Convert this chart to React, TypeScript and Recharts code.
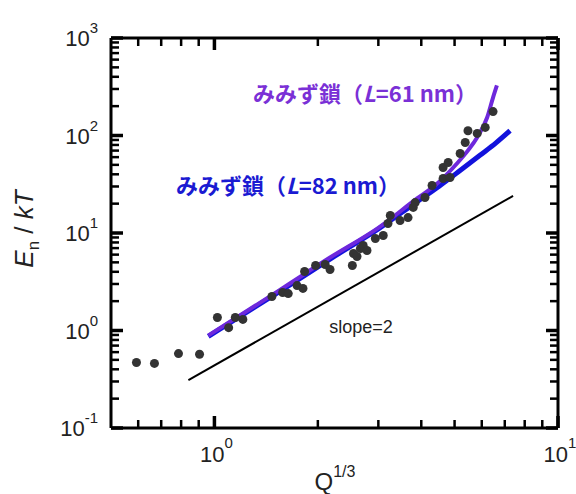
import React from 'react';
import { ComposedChart, Line, Scatter, XAxis, YAxis } from 'recharts';

// measured points (Q^1/3, En/kT)
const qMeasured = [
  0.593, 0.669, 0.786, 0.905, 1.02, 1.1, 1.15, 1.21, 1.47, 1.58, 1.64, 1.74, 1.81,
  1.83, 1.97, 2.1, 2.17, 2.52, 2.54, 2.6, 2.66, 2.71, 2.78, 2.94, 3.1, 3.2, 3.25,
  3.47, 3.66, 3.79, 3.84, 4.1, 4.3, 4.63, 4.85, 4.63, 4.79, 5.19, 5.37, 5.47, 5.82,
  6.14, 6.47,
];
const enMeasured = [
  0.47, 0.46, 0.58, 0.57, 1.36, 1.07, 1.36, 1.3, 2.23, 2.45, 2.39, 2.89, 2.7,
  4.03, 4.64, 4.75, 4.22, 4.64, 6.17, 5.74, 6.93, 7.45, 6.61, 8.79, 9.42, 12.5, 15.1,
  13.4, 14.4, 18.3, 20.5, 23.1, 30.7, 36.2, 37.1, 47, 52.9, 65.4, 84.7, 112, 105,
  121, 176,
];

// worm-like chain, L = 61 nm
const q61 = [0.96, 1.3, 1.6, 2.17, 3.0, 3.89, 4.4, 5.08, 5.5, 5.81, 6.22, 6.47, 6.64];
const en61 = [0.89, 1.75, 2.8, 5.6, 11.3, 22.6, 31, 51.6, 72, 95, 153, 245, 326];

// worm-like chain, L = 82 nm
const q82 = [0.96, 1.6, 2.17, 3.0, 3.89, 4.5, 5.2, 5.94, 6.6, 7.25];
const en82 = [0.87, 2.7, 5.4, 11, 21, 30, 44, 63, 84, 112];

// slope = 2 guide
const qSlope = [0.84, 7.4];
const enSlope = [0.31, 24];

const xMinor = [0.6, 0.7, 0.8, 0.9, 2, 3, 4, 5, 6, 7, 8, 9];
const xMajor = [1, 10];
const yMinor = [
  0.2, 0.3, 0.4, 0.5, 0.6, 0.7, 0.8, 0.9,
  2, 3, 4, 5, 6, 7, 8, 9,
  20, 30, 40, 50, 60, 70, 80, 90,
  200, 300, 400, 500, 600, 700, 800, 900,
];
const yMajor = [0.1, 1, 10, 100, 1000];

const X_MIN = 0.5, X_MAX = 10, Y_MIN = 0.1, Y_MAX = 1000;

// plot box (chart 576x494, left axis 111, right 18, top 38, bottom 66)
const W = 576, H = 494;
const LEFT = 111, RIGHT = W - 18, TOP = 38, BOTTOM = H - 66;

const zip = (xs: number[], ys: number[]) => xs.map((x, i) => ({ x, y: ys[i] }));
const measured = zip(qMeasured, enMeasured);
const fit61 = zip(q61, en61);
const fit82 = zip(q82, en82);
const slope = zip(qSlope, enSlope);

const FONT = '"Liberation Sans", Arial, sans-serif';
const expOf = (v: number) => String(Math.round(Math.log10(v)));

// same log mapping the axes use, for the inward frame ticks
const px = (v: number) =>
  LEFT + ((RIGHT - LEFT) * (Math.log10(v) - Math.log10(X_MIN))) / (Math.log10(X_MAX) - Math.log10(X_MIN));
const py = (v: number) =>
  BOTTOM - ((BOTTOM - TOP) * (Math.log10(v) - Math.log10(Y_MIN))) / (Math.log10(Y_MAX) - Math.log10(Y_MIN));

const bottomLabel = (p: any) => (
  <text key={`b${p.payload.value}`} x={p.x + 2} y={p.y + 34} textAnchor="middle" fontSize={22} fontFamily={FONT} fill="#222">
    10<tspan dy={-14} fontSize={15}>{expOf(p.payload.value)}</tspan>
  </text>
);

const leftLabel = (p: any) => (
  <text key={`l${p.payload.value}`} x={p.x - 13} y={p.y + 8} textAnchor="end" fontSize={22} fontFamily={FONT} fill="#222">
    10<tspan dy={-13} fontSize={15}>{expOf(p.payload.value)}</tspan>
  </text>
);

const Dot = (props: any) => <circle cx={props.cx} cy={props.cy} r={4.5} fill="#333" />;

const axisLine = { stroke: '#000', strokeWidth: 3 };
const xCommon = { type: 'number' as const, scale: 'log' as const, domain: [X_MIN, X_MAX], allowDataOverflow: true, interval: 0 as const, tickSize: 0, tickMargin: 0, tickLine: false };
const yCommon = { type: 'number' as const, scale: 'log' as const, domain: [Y_MIN, Y_MAX], allowDataOverflow: true, interval: 0 as const, tickSize: 0, tickMargin: 0, tickLine: false };

// inward ticks on all four sides of the frame
const FrameTicks = () => {
  const segs: { d: string; w: number }[] = [];
  xMinor.forEach((v) => {
    const x = px(v);
    segs.push({ d: `M${x} ${BOTTOM}L${x} ${BOTTOM - 8}`, w: 2.5 });
    segs.push({ d: `M${x} ${TOP}L${x} ${TOP + 8}`, w: 2.5 });
  });
  xMajor.forEach((v) => {
    const x = px(v);
    segs.push({ d: `M${x} ${BOTTOM}L${x} ${BOTTOM - 12}`, w: 3.5 });
    segs.push({ d: `M${x} ${TOP}L${x} ${TOP + 12}`, w: 3.5 });
  });
  yMinor.forEach((v) => {
    const y = py(v);
    segs.push({ d: `M${LEFT} ${y}L${LEFT + 8} ${y}`, w: 2.5 });
    segs.push({ d: `M${RIGHT} ${y}L${RIGHT - 8} ${y}`, w: 2.5 });
  });
  yMajor.forEach((v) => {
    const y = py(v);
    segs.push({ d: `M${LEFT} ${y}L${LEFT + 12} ${y}`, w: 3.5 });
    segs.push({ d: `M${RIGHT} ${y}L${RIGHT - 12} ${y}`, w: 3.5 });
  });
  return (
    <g>
      {segs.map((s, i) => (
        <path key={i} d={s.d} stroke="#000" strokeWidth={s.w} fill="none" />
      ))}
    </g>
  );
};

export default function App() {
  return (
    <div style={{ position: 'absolute', left: 0, top: 0, width: W, height: H, background: '#fff' }}>
      <ComposedChart width={W} height={H} margin={{ top: 0, right: 0, bottom: 0, left: 0 }}>
        <XAxis xAxisId="b" dataKey="x" {...xCommon} orientation="bottom" height={H - BOTTOM}
          ticks={xMajor} tick={bottomLabel} axisLine={axisLine} />
        <XAxis xAxisId="t" dataKey="x" {...xCommon} orientation="top" height={TOP}
          ticks={xMajor} tick={false} axisLine={axisLine} />
        <YAxis yAxisId="l" {...yCommon} orientation="left" width={LEFT}
          ticks={yMajor} tick={leftLabel} axisLine={axisLine} />
        <YAxis yAxisId="r" {...yCommon} orientation="right" width={W - RIGHT}
          ticks={yMajor} tick={false} axisLine={axisLine} />
        <Line
          xAxisId="b" yAxisId="l" data={slope} dataKey="y" type="linear" stroke="#000"
          strokeWidth={2} dot={false} isAnimationActive={false}
        />
        <Line
          xAxisId="b" yAxisId="l" data={fit82} dataKey="y" type="monotone" stroke="#1212dc"
          strokeWidth={5} dot={false} isAnimationActive={false}
        />
        <Line
          xAxisId="b" yAxisId="l" data={fit61} dataKey="y" type="monotone" stroke="#6e28dc"
          strokeWidth={4} dot={false} isAnimationActive={false}
        />
        <Scatter
          xAxisId="b" yAxisId="l" data={measured} dataKey="y" shape={<Dot />} isAnimationActive={false}
        />
      </ComposedChart>
      <svg width={W} height={H} style={{ position: 'absolute', left: 0, top: 0, pointerEvents: 'none' }}>
        <FrameTicks />
        <text
          x={33} y={229} transform="rotate(-90 33 229)" textAnchor="middle"
          fontSize={26} fontFamily={FONT} fill="#222"
        >
          <tspan fontStyle="italic">E</tspan>
          <tspan dy={6} fontSize={17}>n</tspan>
          <tspan dy={-6}> / </tspan>
          <tspan fontStyle="italic">kT</tspan>
        </text>
        <text x={335} y={490} textAnchor="middle" fontSize={24} fontFamily={FONT} fill="#222">
          Q<tspan dy={-13} fontSize={16}>1/3</tspan>
        </text>
        <text x={361} y={333} textAnchor="middle" fontSize={18} fontFamily={FONT} fill="#222">
          slope=2
        </text>
        <text
          x={477} y={102} textAnchor="end" fontSize={22} fontWeight={700}
          fontFamily={'"Noto Sans CJK JP", sans-serif'} fill="#7a30d6"
        >
          みみず鎖（<tspan fontStyle="italic">L</tspan>=61 nm）
        </text>
        <text
          x={400} y={194} textAnchor="end" fontSize={22} fontWeight={700}
          fontFamily={'"Noto Sans CJK JP", sans-serif'} fill="#1a1ad2"
        >
          みみず鎖（<tspan fontStyle="italic">L</tspan>=82 nm）
        </text>
      </svg>
    </div>
  );
}
